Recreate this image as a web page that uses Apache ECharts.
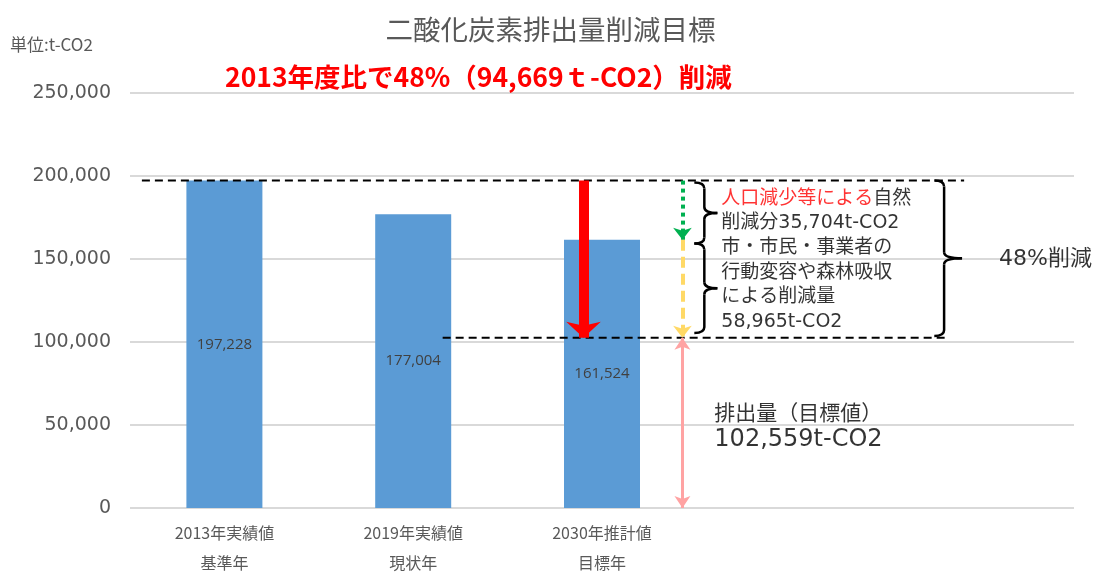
<!DOCTYPE html>
<html>
<head>
<meta charset="utf-8">
<script src="https://cdn.jsdelivr.net/npm/echarts@6/dist/echarts.min.js"></script>
<style>
  html, body { margin: 0; padding: 0; background: #fff; }
  #main { width: 1101px; height: 572px; }
</style>
</head>
<body>
<div id="main"></div>
<script>
// chart data
var categories = ['2013年実績値\n基準年', '2019年実績値\n現状年', '2030年推計値\n目標年', '', ''];
var emissions = [197228, 177004, 161524, null, null];
var yTicks = [0, 50000, 100000, 150000, 200000, 250000];

var baseValue = 197228;       // 2013 baseline
var naturalCut = 35704;       // 人口減少等による自然削減分
var actionCut = 58965;        // 行動変容や森林吸収による削減量
var targetValue = 102559;     // 排出量（目標値）
var naturalLevel = baseValue - naturalCut;

var CJK = '"Noto Sans CJK JP"';
var MIX = '"DejaVu Sans", "Noto Sans CJK JP"';

var fmt = function (v) { return String(v).replace(/\B(?=(\d{3})+(?!\d))/g, ','); };

// helper: an empty series that only carries one markLine arrow
var arrow = function (x, y1, y2, style, symbols, size) {
  return {
    type: 'line', xAxisIndex: 1, yAxisIndex: 0, data: [], silent: true,
    markLine: {
      silent: true, animation: false,
      symbol: symbols, symbolSize: size,
      label: { show: false },
      lineStyle: style,
      emphasis: { disabled: true },
      data: [[{ coord: [x, y1] }, { coord: [x, y2] }]]
    }
  };
};

var dashed = function (x1, x2, y) {
  return {
    type: 'line', xAxisIndex: 1, yAxisIndex: 0, silent: true, symbol: 'none',
    lineStyle: { color: '#000', width: 2, type: [8, 5] },
    data: [[x1, y], [x2, y]], z: 4
  };
};

// '}' shaped brace between two values
var braceItem = function (params, api) {
  var x = api.value(0), xTip = api.value(3), xHook = api.value(4);
  var top = api.coord([x, api.value(1)]);
  var bot = api.coord([x, api.value(2)]);
  var tip = api.coord([xTip, 0])[0];
  var hook = api.coord([xHook, 0])[0];
  var xv = top[0], yT = top[1], yB = bot[1], yM = (yT + yB) / 2, r = 6;
  var st = { stroke: '#000', lineWidth: 2.5, fill: null };
  return {
    type: 'group',
    children: [
      { type: 'bezierCurve', shape: { x1: hook, y1: yT, cpx1: xv, cpy1: yT, x2: xv, y2: yT + r }, style: st },
      { type: 'line', shape: { x1: xv, y1: yT + r, x2: xv, y2: yM - r }, style: st },
      { type: 'bezierCurve', shape: { x1: xv, y1: yM - r, cpx1: xv, cpy1: yM, x2: tip, y2: yM }, style: st },
      { type: 'bezierCurve', shape: { x1: tip, y1: yM, cpx1: xv, cpy1: yM, x2: xv, y2: yM + r }, style: st },
      { type: 'line', shape: { x1: xv, y1: yM + r, x2: xv, y2: yB - r }, style: st },
      { type: 'bezierCurve', shape: { x1: xv, y1: yB - r, cpx1: xv, cpy1: yB, x2: hook, y2: yB }, style: st }
    ]
  };
};

var chart = echarts.init(document.getElementById('main'));

chart.setOption({
  animation: false,
  backgroundColor: '#fff',
  title: [
    {
      text: '二酸化炭素排出量削減目標', left: 'center', top: 16, padding: 0,
      textStyle: { fontFamily: CJK, fontSize: 27.5, fontWeight: 'normal', color: '#595959' }
    },
    {
      text: '単位:t-CO2', left: 10, top: 36, padding: 0,
      textStyle: { fontFamily: CJK, fontSize: 17, fontWeight: 'normal', color: '#595959' }
    },
    {
      text: '2013年度比で48%（94,669ｔ-CO2）削減', left: 225, top: 64, padding: 0,
      textStyle: { fontFamily: CJK, fontSize: 26.5, fontWeight: 'bold', color: '#ff0000' }
    }
  ],
  grid: { left: 130, right: 27, top: 93, bottom: 64, containLabel: false, outerBoundsMode: 'none' },
  xAxis: [
    {
      type: 'category', data: categories,
      axisLine: { show: false }, axisTick: { show: false },
      axisLabel: { fontFamily: CJK, fontSize: 16, color: '#595959', lineHeight: 30, margin: 10, interval: 0 }
    },
    { type: 'value', min: 0, max: 5, show: false }
  ],
  yAxis: {
    type: 'value', min: yTicks[0], max: yTicks[yTicks.length - 1], interval: yTicks[1] - yTicks[0],
    axisLine: { show: false }, axisTick: { show: false },
    axisLabel: { fontFamily: '"DejaVu Sans"', fontSize: 19, color: '#595959', margin: 19, formatter: fmt },
    splitLine: { lineStyle: { color: '#d9d9d9', width: 2 } }
  },
  series: [
    {
      type: 'bar', data: emissions, barWidth: 76, silent: true,
      itemStyle: { color: '#5b9bd5' },
      label: {
        show: true, position: 'inside', fontFamily: '"Open Sans"', fontSize: 15, color: '#404040',
        formatter: function (p) { return fmt(p.value); }
      }
    },
    dashed(0.063, 4.418, baseValue),
    dashed(1.656, 4.328, targetValue),
    arrow(2.402, baseValue, targetValue, { color: '#ff0000', width: 10, type: 'solid' }, ['none', 'arrow'], [26, 16]),
    arrow(2.926, baseValue, naturalLevel, { color: '#00b050', width: 4, type: [4, 4] }, ['none', 'arrow'], [14, 12]),
    arrow(2.926, naturalLevel, targetValue, { color: '#ffd966', width: 4, type: [11, 6] }, ['none', 'arrow'], [14, 12]),
    arrow(2.926, targetValue, 0, { color: '#ffa3a3', width: 3, type: 'solid' }, ['arrow', 'arrow'], [12, 12]),
    {
      type: 'custom', xAxisIndex: 1, yAxisIndex: 0, silent: true, renderItem: braceItem, z: 5,
      data: [
        [3.042, baseValue - 1200, naturalLevel - 2200, 3.111, 2.989],
        [3.042, naturalLevel - 2200, targetValue + 2800, 3.111, 2.989],
        [4.312, baseValue, targetValue + 1000, 4.407, 4.26]
      ]
    },
    {
      type: 'scatter', xAxisIndex: 1, yAxisIndex: 0, silent: true, symbolSize: 0,
      label: { show: true, position: 'right', distance: 0, color: '#000' },
      data: [
        {
          value: [3.132, 149100],
          label: {
            formatter: '{r|人口減少等による}{k|自然}\n{k|削減分' + fmt(naturalCut) + 't-CO2}\n{k|市・市民・事業者の}\n{k|行動変容や森林吸収}\n{k|による削減量}\n{k|' + fmt(actionCut) + 't-CO2}',
            rich: {
              r: { color: '#ff0000', fontFamily: MIX, fontSize: 19, lineHeight: 24.7 },
              k: { color: '#000', fontFamily: MIX, fontSize: 19, lineHeight: 24.7 }
            }
          }
        },
        {
          value: [4.603, (baseValue + targetValue) / 2],
          label: { formatter: '48%削減', fontFamily: MIX, fontSize: 22 }
        },
        {
          value: [3.095, 49400],
          label: {
            formatter: '{a|排出量（目標値）}\n{b|' + fmt(targetValue) + 't-CO2}',
            rich: {
              a: { fontFamily: CJK, fontSize: 21, lineHeight: 28, color: '#000' },
              b: { fontFamily: '"DejaVu Sans"', fontSize: 24, lineHeight: 28, color: '#000' }
            }
          }
        }
      ]
    }
  ]
});
</script>
</body>
</html>
